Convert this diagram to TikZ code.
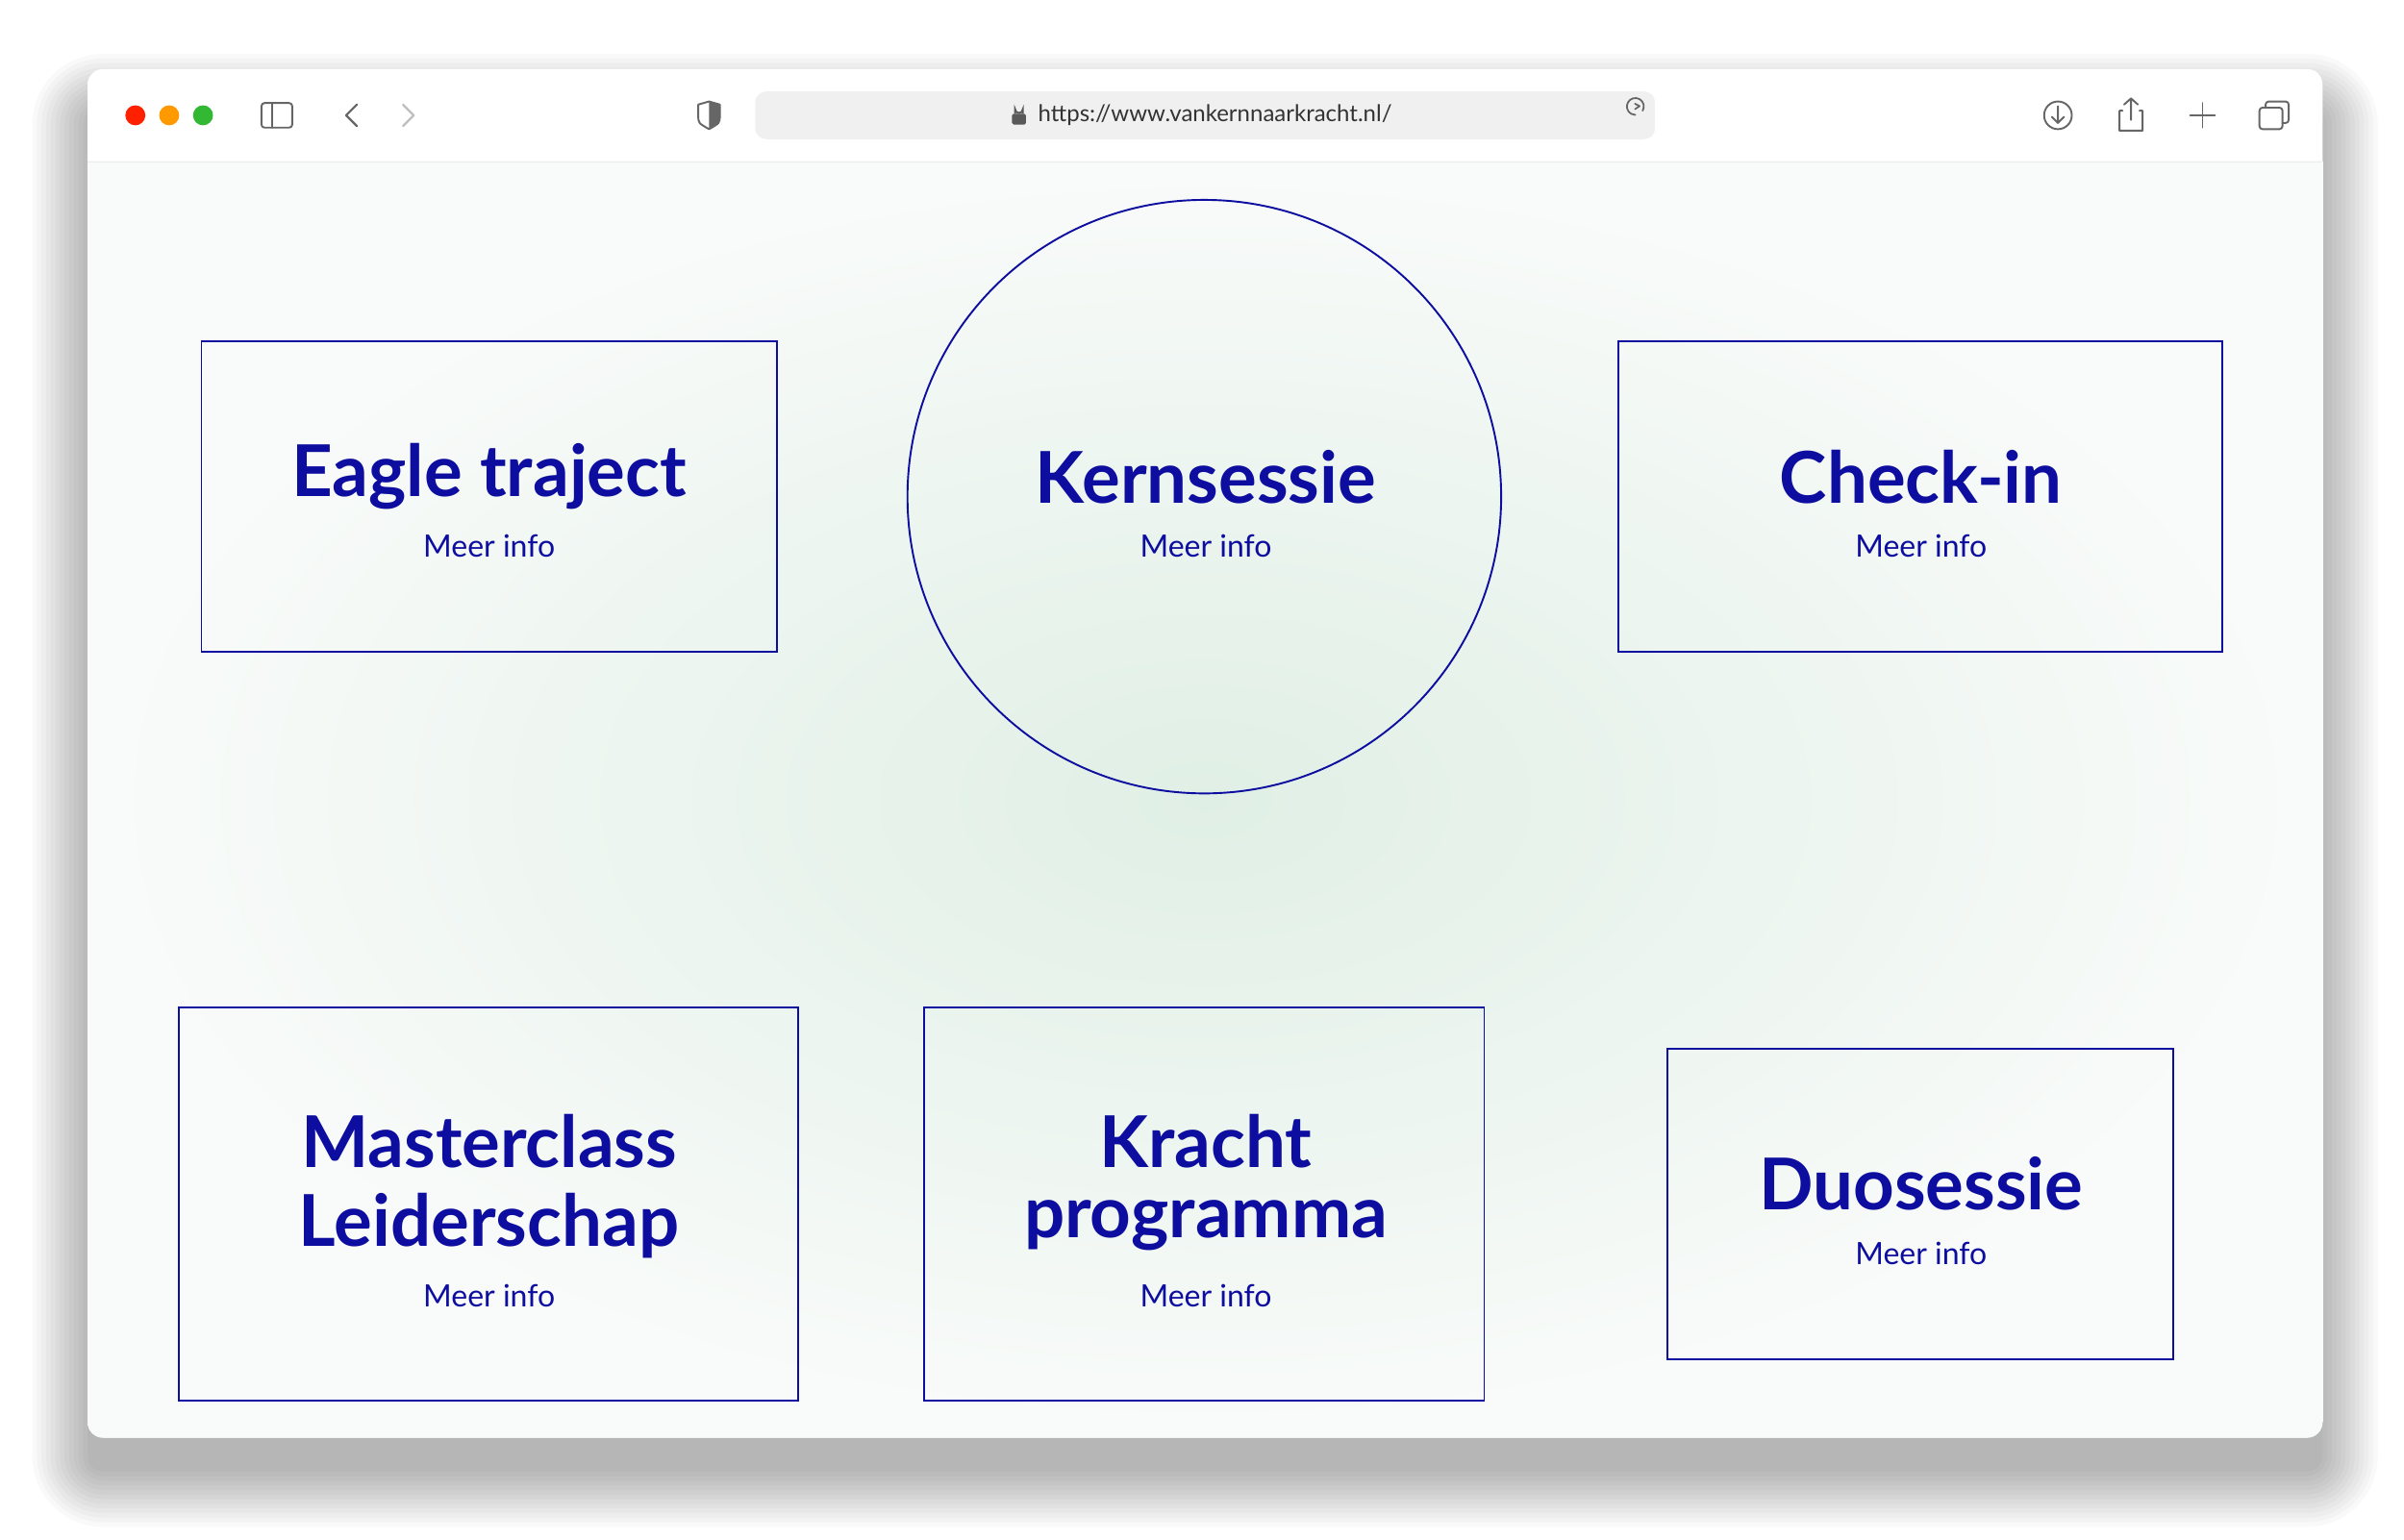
\documentclass[tikz,border=0pt]{standalone}
\usepackage{fontspec}
\setmainfont{Lato}
\definecolor{kb}{HTML}{0D0DA0}
\definecolor{bgin}{HTML}{E0EFE5}
\definecolor{bgout}{HTML}{F9FBFA}
\tikzset{card/.style={draw=kb,line width=1.2pt},
 ttl/.style={text=kb,font=\fontsize{46.5}{52}\selectfont\bfseries,align=center},
 sub/.style={text=kb,font=\fontsize{20}{24}\selectfont},
 ico/.style={draw=gray!80!black,line width=1.4pt,line cap=round,line join=round}}
\begin{document}
\begin{tikzpicture}[x=1pt,y=-1pt]
\useasboundingbox (0,0) rectangle (1563,1001);
\fill[white] (0,0) rectangle (1563,1001);
\foreach \e in {36,33,...,0}{
  \fill[black,opacity=0.022,rounded corners={10pt+\e pt}] (57-\e,45-\e+26) rectangle (1510+\e,935+\e+22);
}
\node[fill=white,rounded corners=10pt,minimum width=1453pt,minimum height=890pt,inner sep=0pt] (win) at (783.5,490) {};
\begin{scope}
\clip[rounded corners=10pt] (57,45) rectangle (1510,935);
\fill[white] (57,45) rectangle (1510,105);
\shade[inner color=bgin,outer color=bgout] (57,105) rectangle (1510,935);
\end{scope}
\draw[gray!15] (57,105) -- (1510,105);
\fill[red!75!orange] (88,75) circle (6.5);
\fill[orange!80!yellow] (110,75) circle (6.5);
\fill[green!65!black!80] (132,75) circle (6.5);
\draw[ico,line width=1.2pt,rounded corners=2pt] (170,67) rectangle (190,83);
\draw[ico,line width=1.2pt] (177,67) -- (177,83);
\draw[ico] (232,68) -- (225,75) -- (232,82);
\draw[ico,gray!50] (262,68) -- (269,75) -- (262,82);
\draw[ico,line width=1.2pt] (454,68) -- (461,66) -- (468,68) -- (468,75) .. controls (468,80) .. (461,84) .. controls (454,80) .. (454,75) -- cycle;
\fill[gray!80!black] (461,66) -- (468,68) -- (468,75) .. controls (468,80) .. (461,84) -- cycle;
\node[fill=gray!12,rounded corners=7pt,minimum width=585pt,minimum height=31pt] (url) at (783.5,75) {};
\node[text=black!80,font=\fontsize{15}{18}\selectfont] (urlt) at (790,75) {https://www.vankernnaarkracht.nl/};
\fill[gray!70!black,rounded corners=1pt] (658,74) rectangle (667,81);
\draw[gray!70!black,line width=1.2pt] (660,74) -- (660,71) arc (180:0:2.5) -- (665,74);
\draw[ico,line width=1.1pt] (1068,72) arc (30:-270:5.5);
\draw[ico,line width=1.1pt] (1063,67.5) -- (1066,69) -- (1063,71);
\draw[ico,line width=1.2pt] (1338,75) circle (9);
\draw[ico,line width=1.2pt] (1338,69) -- (1338,80) (1334,76) -- (1338,80) -- (1342,76);
\draw[ico,line width=1.2pt] (1380,72) -- (1378,72) -- (1378,85) -- (1393,85) -- (1393,72) -- (1391,72) (1385.5,78) -- (1385.5,64) (1381,68) -- (1385.5,64) -- (1390,68);
\draw[ico,line width=1.2pt] (1432,67) -- (1432,83) (1424,75) -- (1440,75);
\draw[ico,line width=1.2pt,rounded corners=2pt] (1469,70) rectangle (1484,84);
\draw[ico,line width=1.2pt,rounded corners=2pt] (1473,70) -- (1473,66) -- (1488,66) -- (1488,80) -- (1484,80);
% cards
\draw[card] (131,222) rectangle (505,424);
\node[ttl] (t1) at (318,310) {Eagle traject};
\node[sub] (s1) at (318,355) {Meer info};
\draw[card] (783,323) circle (193);
\node[ttl] (t2) at (784,310) {Kernsessie};
\node[sub] (s2) at (784,355) {Meer info};
\draw[card] (1052,222) rectangle (1445,424);
\node[ttl] (t3) at (1249,310) {Check-in};
\node[sub] (s3) at (1249,355) {Meer info};
\draw[card] (116,655) rectangle (519,911);
\node[ttl] (t4) at (318,742) {Masterclass};
\node[ttl] (t4b) at (318,797) {Leiderschap};
\node[sub] (s4) at (318,843) {Meer info};
\draw[card] (601,655) rectangle (965,911);
\node[ttl] (t5) at (784,742) {Kracht};
\node[ttl] (t5b) at (784,797) {programma};
\node[sub] (s5) at (784,843) {Meer info};
\draw[card] (1084,682) rectangle (1413,884);
\node[ttl] (t6) at (1249,770) {Duosessie};
\node[sub] (s6) at (1249,815) {Meer info};
\end{tikzpicture}
\end{document}
